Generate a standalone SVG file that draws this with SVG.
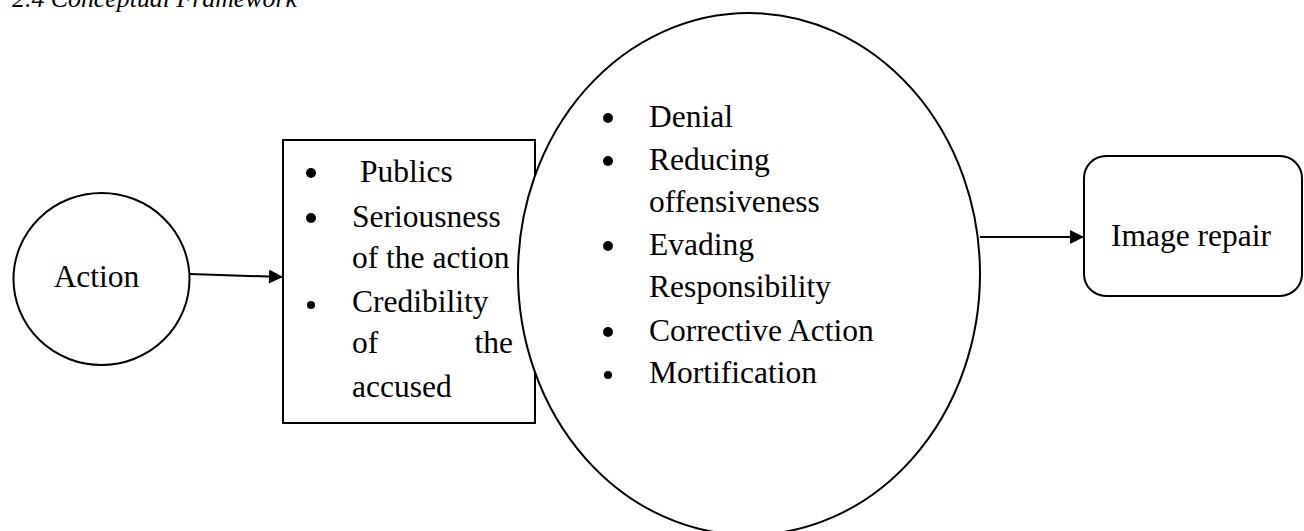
<svg xmlns="http://www.w3.org/2000/svg" width="1304" height="531" viewBox="0 0 1304 531">
  <style>
    .shape { fill: #ffffff; stroke: #000000; stroke-width: 2; }
    .t { font-family: "Liberation Serif", "Times New Roman", serif; font-size: 31.5px; fill: #000000; }
    .title { font-family: "Liberation Serif", "Times New Roman", serif; font-size: 25px; font-style: italic; fill: #000000; }
    .conn { stroke: #000000; stroke-width: 2; fill: none; marker-end: url(#arrow); }
  </style>
  <defs>
    <marker id="arrow" viewBox="0 0 10 10" refX="10" refY="5" markerWidth="6" markerHeight="6" markerUnits="userSpaceOnUse" orient="auto">
      <path d="M0,0 L10,5 L0,10 z" fill="#000000"/>
    </marker>
    <marker id="arrowBig" viewBox="0 0 10 10" refX="10" refY="5" markerWidth="16" markerHeight="14" markerUnits="userSpaceOnUse" orient="auto">
      <path d="M0,0 L10,5 L0,10 z" fill="#000000"/>
    </marker>
  </defs>
  <rect x="0" y="0" width="1304" height="531" fill="#ffffff"/>

  <text class="title" x="12" y="7" textLength="285" lengthAdjust="spacingAndGlyphs">2.4 Conceptual Framework</text>

  <g id="node-action">
    <ellipse class="shape" cx="101.5" cy="279" rx="88" ry="86"/>
    <text class="t" x="96.5" y="287" text-anchor="middle">Action</text>
  </g>

  <g id="node-factors">
    <rect class="shape" x="283" y="140" width="252" height="283"/>
    <circle cx="311" cy="173" r="5"/>
    <text class="t" x="360" y="182">Publics</text>
    <circle cx="311" cy="218" r="5"/>
    <text class="t" x="352" y="227">Seriousness</text>
    <text class="t" x="352" y="268">of the action</text>
    <circle cx="311" cy="305" r="4"/>
    <text class="t" x="352" y="312">Credibility</text>
    <text class="t" x="352" y="353">of</text>
    <text class="t" x="513" y="353" text-anchor="end">the</text>
    <text class="t" x="352" y="397">accused</text>
  </g>

  <g id="node-strategies">
    <ellipse class="shape" cx="749" cy="274" rx="231" ry="261"/>
    <circle cx="608" cy="118" r="5"/>
    <text class="t" x="649" y="127">Denial</text>
    <circle cx="608" cy="161" r="5"/>
    <text class="t" x="649" y="170">Reducing</text>
    <text class="t" x="649" y="212">offensiveness</text>
    <circle cx="608" cy="246" r="5"/>
    <text class="t" x="649" y="255">Evading</text>
    <text class="t" x="649" y="297">Responsibility</text>
    <circle cx="608" cy="332" r="5"/>
    <text class="t" x="649" y="341">Corrective Action</text>
    <circle cx="608" cy="375" r="4"/>
    <text class="t" x="649" y="383">Mortification</text>
  </g>

  <g id="node-image-repair">
    <rect class="shape" x="1084" y="156" width="218" height="140" rx="22" ry="22"/>
    <text class="t" x="1191" y="246" text-anchor="middle">Image repair</text>
  </g>

  <g id="connectors">
    <line x1="190" y1="274" x2="283" y2="277" stroke="#000" stroke-width="2" marker-end="url(#arrowBig)"/>
    <line x1="980" y1="237" x2="1084" y2="237" stroke="#000" stroke-width="2" marker-end="url(#arrowBig)"/>
  </g>
</svg>
